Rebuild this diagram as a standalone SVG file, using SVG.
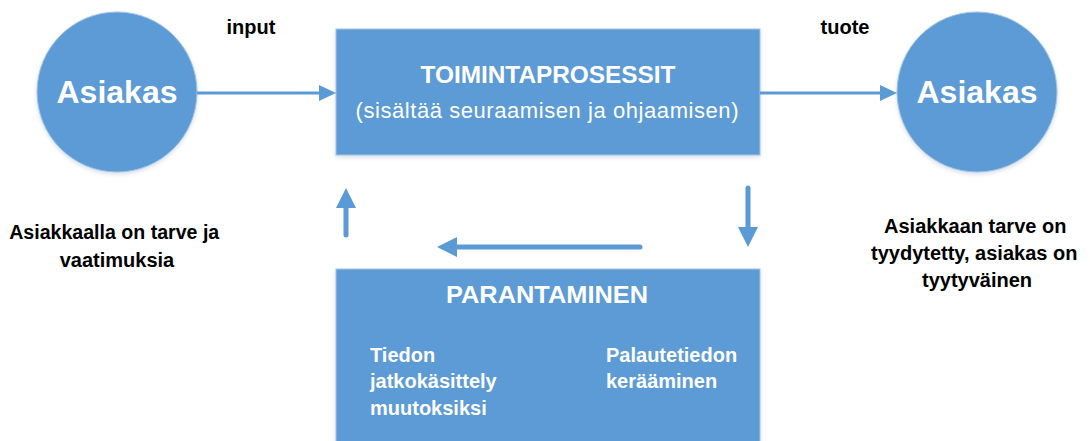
<svg xmlns="http://www.w3.org/2000/svg" width="1090" height="441" viewBox="0 0 1090 441">
  <style>
    .node { fill: #5b9bd5; stroke: #a7c3e3; stroke-width: 1; }
    .t { font-family: "Liberation Sans", Arial, sans-serif; }
    .w { fill: #ffffff; }
    .k { fill: #000000; }
    .b { font-weight: bold; }
    .conn { stroke: #5b9bd5; fill: none; }
    .head { fill: #5b9bd5; stroke: none; }
  </style>
  <defs>
    <filter id="shadow" x="-10%" y="-10%" width="120%" height="130%">
      <feDropShadow dx="0" dy="2" stdDeviation="2" flood-color="#8aa6c8" flood-opacity="0.35"/>
    </filter>
  </defs>
  <rect width="1090" height="441" fill="#ffffff"/>

  <!-- customer (input side) -->
  <g id="asiakas-in">
    <circle class="node" cx="117" cy="92" r="80" filter="url(#shadow)"/>
    <text class="t w b" x="117" y="103" font-size="32" text-anchor="middle">Asiakas</text>
  </g>

  <!-- main process box -->
  <g id="toimintaprosessit">
    <rect class="node" x="336" y="29" width="424" height="126" filter="url(#shadow)"/>
    <text class="t w b" x="548" y="83" font-size="24" text-anchor="middle" textLength="255" lengthAdjust="spacingAndGlyphs">TOIMINTAPROSESSIT</text>
    <text class="t w" x="547" y="118" font-size="22" text-anchor="middle" textLength="383" lengthAdjust="spacing">(sisältää seuraamisen ja ohjaamisen)</text>
  </g>

  <!-- customer (output side) -->
  <g id="asiakas-out">
    <circle class="node" cx="977" cy="92" r="80" filter="url(#shadow)"/>
    <text class="t w b" x="977" y="103" font-size="32" text-anchor="middle">Asiakas</text>
  </g>

  <!-- improvement box -->
  <g id="parantaminen">
    <rect class="node" x="336" y="269" width="424" height="190" filter="url(#shadow)"/>
    <text class="t w b" x="547" y="303" font-size="24" text-anchor="middle" textLength="202" lengthAdjust="spacingAndGlyphs">PARANTAMINEN</text>
    <text class="t w b" font-size="20">
      <tspan x="370" y="362">Tiedon</tspan>
      <tspan x="370" y="388">jatkokäsittely</tspan>
      <tspan x="370" y="415">muutoksiksi</tspan>
    </text>
    <text class="t w b" font-size="20">
      <tspan x="606" y="362">Palautetiedon</tspan>
      <tspan x="606" y="388">kerääminen</tspan>
    </text>
  </g>

  <!-- free labels -->
  <g id="labels">
    <text class="t k b" x="251" y="34" font-size="20" text-anchor="middle">input</text>
    <text class="t k b" x="845" y="34" font-size="20" text-anchor="middle">tuote</text>
    <text class="t k b" font-size="20" text-anchor="middle">
      <tspan x="117" y="239" textLength="210" lengthAdjust="spacingAndGlyphs">Asiakkaalla on tarve ja</tspan>
      <tspan x="117" y="267">vaatimuksia</tspan>
    </text>
    <text class="t k b" font-size="20" text-anchor="middle">
      <tspan x="978" y="233">Asiakkaan tarve on</tspan>
      <tspan x="977" y="260">tyydytetty, asiakas on</tspan>
      <tspan x="977" y="287">tyytyväinen</tspan>
    </text>
  </g>

  <!-- connectors -->
  <g id="connectors">
    <!-- input -->
    <line class="conn" x1="197" y1="93" x2="322" y2="93" stroke-width="3"/>
    <polygon class="head" points="319,85 336,93 319,101"/>
    <!-- output -->
    <line class="conn" x1="760" y1="93" x2="883" y2="93" stroke-width="3"/>
    <polygon class="head" points="880,85 897,93 880,101"/>
    <!-- feedback loop -->
    <line class="conn" x1="748" y1="188" x2="748" y2="230" stroke-width="5" stroke-linecap="round"/>
    <polygon class="head" points="738,227 758,227 748,247"/>
    <line class="conn" x1="640" y1="247" x2="454" y2="247" stroke-width="5" stroke-linecap="round"/>
    <polygon class="head" points="457,237 457,257 437,247"/>
    <line class="conn" x1="346" y1="235" x2="346" y2="205" stroke-width="5" stroke-linecap="round"/>
    <polygon class="head" points="336,208 356,208 346,188"/>
  </g>
</svg>
